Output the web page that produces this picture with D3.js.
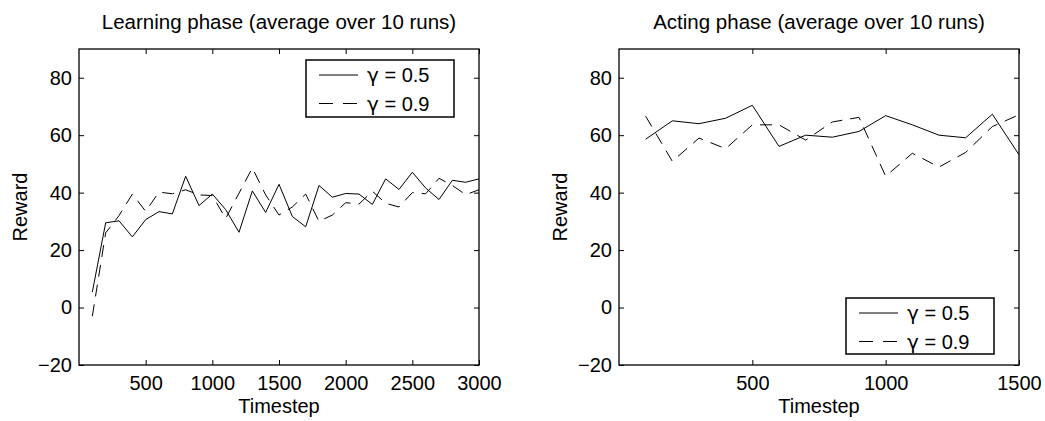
<!DOCTYPE html>
<html>
<head>
<meta charset="utf-8">
<script src="https://cdn.jsdelivr.net/npm/d3@7"></script>
<style>
  body { margin: 0; background: #fff; }
  svg text { font-family: Arial, "Liberation Sans", Helvetica, sans-serif; }
</style>
</head>
<body>
<script>
// data
var learnSteps = [100, 200, 300, 400, 500, 600, 700, 800, 900, 1000,
                  1100, 1200, 1300, 1400, 1500, 1600, 1700, 1800, 1900, 2000,
                  2100, 2200, 2300, 2400, 2500, 2600, 2700, 2800, 2900, 3000];
var learnG05 = [5.4, 29.5, 30.2, 24.6, 30.6, 33.4, 32.6, 45.7, 35.5, 39.5,
                34.1, 26.2, 40.6, 33.1, 42.9, 31.7, 28.1, 42.5, 38.4, 39.7,
                39.5, 35.9, 44.8, 41.1, 47.1, 41.6, 37.6, 44.3, 43.6, 44.8];
var learnG09 = [-3.0, 26.0, 32.0, 39.5, 33.5, 40.2, 39.6, 41.0, 39.2, 39.0,
                31.0, 39.8, 48.6, 39.2, 32.2, 35.0, 39.5, 30.0, 32.2, 36.5,
                36.0, 40.5, 36.3, 35.0, 40.0, 39.6, 45.0, 42.5, 39.3, 41.0];

var actSteps = [100, 200, 300, 400, 500, 600, 700, 800, 900, 1000,
                1100, 1200, 1300, 1400, 1500];
var actG05 = [58.6, 65.0, 64.0, 65.9, 70.4, 56.1, 60.0, 59.3, 61.3, 66.8,
              63.6, 60.0, 59.1, 67.3, 53.2];
var actG09 = [66.6, 50.9, 59.0, 55.3, 63.6, 63.6, 58.3, 64.6, 66.2, 45.7,
              53.7, 48.9, 54.0, 63.0, 67.1];

var yTicks = [-20, 0, 20, 40, 60, 80];
var learnTicks = [500, 1000, 1500, 2000, 2500, 3000];
var actTicks = [500, 1000, 1500];
var legendValues = ["0.5", "0.9"];

var W = 1045, H = 421, FS = 20, TICK = 5;
var svg = d3.select("body").append("svg").attr("width", W).attr("height", H);
var fmt = d3.format("d");

var panels = [
  { left: 79, right: 479, top: 49, bottom: 365, xmax: 3000, xticks: learnTicks,
    steps: learnSteps, s1: learnG05, s2: learnG09,
    title: "Learning phase (average over 10 runs)",
    legend: { x: 306, y: 60, w: 148, h: 57 }, ylabX: 27 },
  { left: 619, right: 1019, top: 49, bottom: 365, xmax: 1500, xticks: actTicks,
    steps: actSteps, s1: actG05, s2: actG09,
    title: "Acting phase (average over 10 runs)",
    legend: { x: 846, y: 298, w: 148, h: 56 }, ylabX: 567 }
];

panels.forEach(function (p) {
  var x = d3.scaleLinear().domain([0, p.xmax]).range([p.left, p.right]);
  var y = d3.scaleLinear().domain([-20, 90]).range([p.bottom, p.top]);
  var g = svg.append("g");

  // axes with inward ticks on all four sides
  function styleAxis(a) {
    a.select(".domain").remove();
    a.attr("font-size", FS).attr("font-family", null);
    a.selectAll("line").attr("stroke", "#000");
    a.selectAll("text").attr("fill", "#000");
  }
  g.append("g").attr("transform", "translate(0," + p.bottom + ")")
    .call(d3.axisBottom(x).tickValues(p.xticks).tickFormat(fmt).tickSizeInner(-TICK).tickSizeOuter(0).tickPadding(11))
    .call(styleAxis);
  g.append("g").attr("transform", "translate(0," + p.top + ")")
    .call(d3.axisTop(x).tickValues(p.xticks).tickSizeInner(-TICK).tickSizeOuter(0).tickFormat(""))
    .call(styleAxis);
  g.append("g").attr("transform", "translate(" + p.left + ",0)")
    .call(d3.axisLeft(y).tickValues(yTicks).tickFormat(fmt).tickSizeInner(-TICK).tickSizeOuter(0).tickPadding(7))
    .call(styleAxis);
  g.append("g").attr("transform", "translate(" + p.right + ",0)")
    .call(d3.axisRight(y).tickValues(yTicks).tickSizeInner(-TICK).tickSizeOuter(0).tickFormat(""))
    .call(styleAxis);

  // box
  g.append("rect")
    .attr("x", p.left).attr("y", p.top)
    .attr("width", p.right - p.left).attr("height", p.bottom - p.top)
    .attr("fill", "none").attr("stroke", "#000").attr("stroke-width", 1.3);

  // lines
  var line = d3.line()
    .x(function (d, i) { return x(p.steps[i]); })
    .y(function (d) { return y(d); });
  g.append("path").datum(p.s1).attr("d", line)
    .attr("fill", "none").attr("stroke", "#000").attr("stroke-width", 1);
  g.append("path").datum(p.s2).attr("d", line)
    .attr("fill", "none").attr("stroke", "#000").attr("stroke-width", 1)
    .attr("stroke-dasharray", "12,8");

  // titles and labels
  g.append("text").attr("x", (p.left + p.right) / 2).attr("y", 29)
    .attr("text-anchor", "middle").attr("font-size", 20.5).text(p.title);
  g.append("text").attr("x", (p.left + p.right) / 2).attr("y", 413)
    .attr("text-anchor", "middle").attr("font-size", FS).text("Timestep");
  g.append("text")
    .attr("transform", "translate(" + p.ylabX + "," + ((p.top + p.bottom) / 2) + ") rotate(-90)")
    .attr("text-anchor", "middle").attr("font-size", FS).text("Reward");

  // legend
  var L = p.legend;
  var lg = g.append("g").attr("transform", "translate(" + L.x + "," + L.y + ")");
  lg.append("rect").attr("width", L.w).attr("height", L.h)
    .attr("fill", "#fff").attr("stroke", "#000").attr("stroke-width", 1.5);
  legendValues.forEach(function (v, i) {
    var yy = 15 + i * 28.5;
    lg.append("line").attr("x1", 13).attr("x2", 52).attr("y1", yy).attr("y2", yy)
      .attr("stroke", "#000").attr("stroke-width", 1)
      .attr("stroke-dasharray", i === 1 ? "14,10" : null);
    var t = lg.append("text").attr("x", 61).attr("y", yy).attr("dy", "0.35em")
      .attr("font-size", FS);
    t.append("tspan").attr("font-family", "'DejaVu Sans', 'Noto Sans', sans-serif").text("\u03b3");
    t.append("tspan").text(" = " + v);
  });
});
</script>
</body>
</html>
